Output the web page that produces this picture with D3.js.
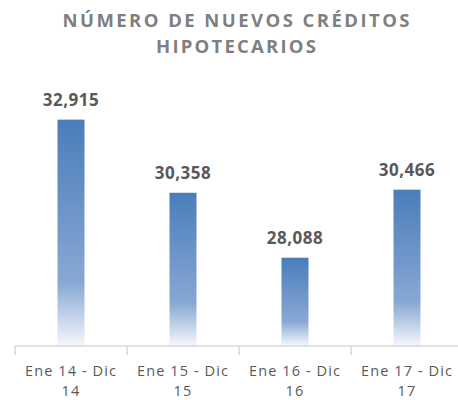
<!DOCTYPE html>
<html>
<head>
<meta charset="utf-8">
<script src="https://cdn.jsdelivr.net/npm/d3@7"></script>
<style>
  body { margin: 0; background: #fff; }
  text { font-family: "Open Sans", sans-serif; }
</style>
</head>
<body>
<div id="chart"></div>
<script>
// datos del gráfico
const categorias = [["Ene 14 - Dic", "14"], ["Ene 15 - Dic", "15"], ["Ene 16 - Dic", "16"], ["Ene 17 - Dic", "17"]];
const creditos = [32915, 30358, 28088, 30466];
const titulo = ["NÚMERO DE NUEVOS CRÉDITOS", "HIPOTECARIOS"];

const width = 458, height = 400;
const svg = d3.select("#chart").append("svg")
    .attr("width", width)
    .attr("height", height);

// degradado de las barras
const grad = svg.append("defs").append("linearGradient")
    .attr("id", "barGrad")
    .attr("x1", 0).attr("y1", 0).attr("x2", 0).attr("y2", 1);
grad.append("stop").attr("offset", "0%").attr("stop-color", "#4a7dbb");
grad.append("stop").attr("offset", "72%").attr("stop-color", "#88a8d3");
grad.append("stop").attr("offset", "100%").attr("stop-color", "#f5f8fc");

// título (anchos medidos sobre la referencia)
const anchoTitulo = [347, 160];
svg.append("g").selectAll("text")
    .data(titulo)
    .join("text")
    .attr("x", 236)
    .attr("y", (d, i) => 27 + i * 26)
    .attr("text-anchor", "middle")
    .attr("font-size", "18.5px")
    .attr("font-weight", "bold")
    .attr("textLength", (d, i) => anchoTitulo[i])
    .attr("lengthAdjust", "spacing")
    .attr("fill", "#7f7f7f")
    .text(d => d);

const ids = d3.range(creditos.length);
const x = d3.scaleBand().domain(ids).range([15, 463]).padding(0);
const y = d3.scaleLinear().domain([25000, 35000]).range([346, 60]);
const barW = 27;

// barras
svg.append("g").selectAll("rect")
    .data(ids)
    .join("rect")
    .attr("x", i => x(i) + x.bandwidth() / 2 - barW / 2)
    .attr("y", i => y(creditos[i]))
    .attr("width", barW)
    .attr("height", i => y(25000) - y(creditos[i]))
    .attr("fill", "url(#barGrad)");

// etiquetas de valor
svg.append("g").selectAll("text")
    .data(ids)
    .join("text")
    .attr("x", i => x(i) + x.bandwidth() / 2)
    .attr("y", i => y(creditos[i]) - 14)
    .attr("text-anchor", "middle")
    .attr("font-size", "17px")
    .attr("font-weight", "bold")
    .attr("letter-spacing", "0.5px")
    .attr("fill", "#595959")
    .text(i => d3.format(",")(creditos[i]));

// eje x
const axis = svg.append("g");
axis.append("line")
    .attr("x1", 15).attr("x2", width)
    .attr("y1", 346).attr("y2", 346)
    .attr("stroke", "#d9d9d9").attr("stroke-width", 1.5);
axis.selectAll(".tick")
    .data(ids)
    .join("line")
    .attr("class", "tick")
    .attr("x1", i => x(i)).attr("x2", i => x(i))
    .attr("y1", 346).attr("y2", 355)
    .attr("stroke", "#d9d9d9").attr("stroke-width", 1.5);

const lab = axis.selectAll(".cat")
    .data(ids)
    .join("text")
    .attr("class", "cat")
    .attr("text-anchor", "middle")
    .attr("font-size", "14.5px")
    .attr("letter-spacing", "1.1px")
    .attr("fill", "#595959");
lab.each(function(i) {
    const t = d3.select(this);
    categorias[i].forEach((linea, k) => {
        t.append("tspan")
            .attr("x", x(i) + x.bandwidth() / 2)
            .attr("y", 375.5 + k * 20)
            .text(linea);
    });
});
</script>
</body>
</html>
